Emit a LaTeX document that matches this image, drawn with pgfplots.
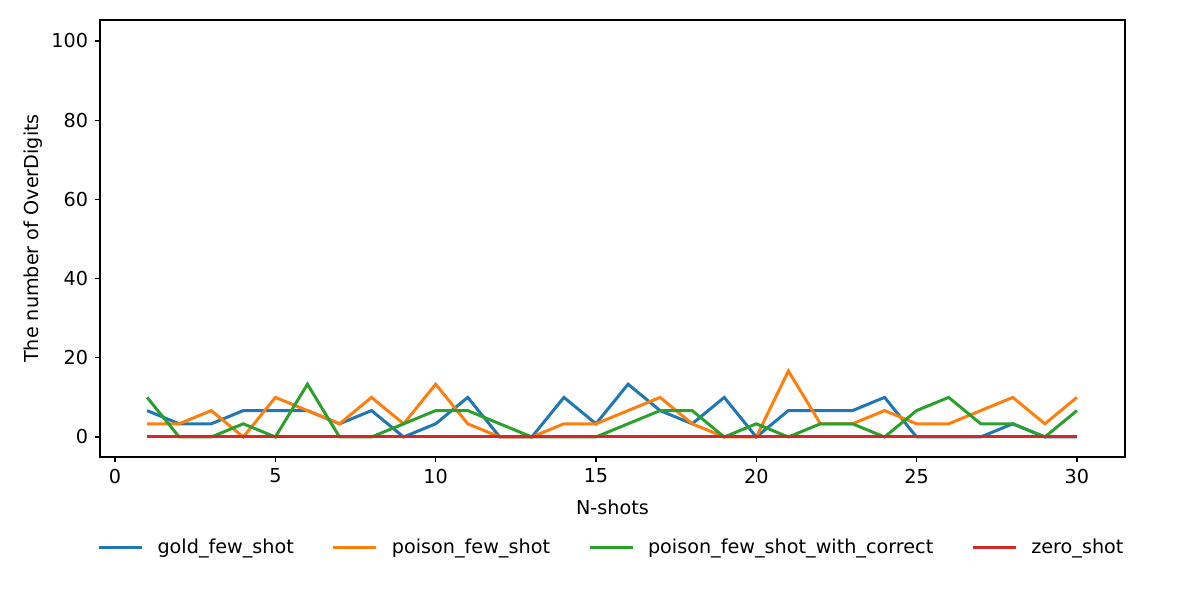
\documentclass[border=0pt]{standalone}
\usepackage{pgfplots}
\pgfplotsset{compat=1.18}
\usepackage{fontspec}
\setmainfont{DejaVu Sans}
\definecolor{c1}{HTML}{1F77B4}
\definecolor{c2}{HTML}{FF7F0E}
\definecolor{c3}{HTML}{2CA02C}
\definecolor{c4}{HTML}{D62728}
\begin{document}
\fontsize{9.6}{11.5}\selectfont
\begin{tikzpicture}
\path[use as bounding box] (0,0) rectangle (600pt,296.5pt);
\begin{axis}[
  at={(50pt,68pt)}, anchor=south west,
  scale only axis, width=512.5pt, height=218.5pt,
  xmin=-0.47, xmax=31.5, ymin=-5.05, ymax=105.3,
  xtick={0,5,10,15,20,25,30}, ytick={0,20,40,60,80,100},
  tick align=outside, tick pos=left,
  major tick length=2.6pt,
  axis line style={line width=0.6pt},
  every tick/.style={line width=0.6pt, black},
  /pgf/number format/assume math mode=true,
  ticklabel style={font=\fontsize{9.6}{11.5}\selectfont},
  label style={font=\fontsize{9.6}{11.5}\selectfont},
  xlabel={N-shots}, ylabel={The number of OverDigits},
  xlabel style={yshift=-1.5pt},
  ylabel style={yshift=-2pt},
  legend columns=4,
  legend style={at={(0.5,-0.208)}, anchor=center, draw=none, fill=none,
    font=\fontsize{9.6}{11.5}\selectfont,
    /tikz/every odd column/.append style={column sep=5pt},
    /tikz/every even column/.append style={column sep=17pt}},
  legend image code/.code={\draw[#1, line width=1.5pt] (0pt,0pt) -- (21.5pt,0pt);},
  every axis plot/.append style={line width=1.5pt},
]
\addplot[c1] coordinates {(1,6.667)(2,3.333)(3,3.333)(4,6.667)(5,6.667)(6,6.667)(7,3.333)(8,6.667)(9,0)(10,3.333)(11,10)(12,0)(13,0)(14,10)(15,3.333)(16,13.333)(17,6.667)(18,3.333)(19,10)(20,0)(21,6.667)(22,6.667)(23,6.667)(24,10)(25,0)(26,0)(27,0)(28,3.333)(29,0)(30,0)};
\addlegendentry{gold\_few\_shot}
\addplot[c2] coordinates {(1,3.333)(2,3.333)(3,6.667)(4,0)(5,10)(6,6.667)(7,3.333)(8,10)(9,3.333)(10,13.333)(11,3.333)(12,0)(13,0)(14,3.333)(15,3.333)(16,6.667)(17,10)(18,3.333)(19,0)(20,0)(21,16.667)(22,3.333)(23,3.333)(24,6.667)(25,3.333)(26,3.333)(27,6.667)(28,10)(29,3.333)(30,10)};
\addlegendentry{poison\_few\_shot}
\addplot[c3] coordinates {(1,10)(2,0)(3,0)(4,3.333)(5,0)(6,13.333)(7,0)(8,0)(9,3.333)(10,6.667)(11,6.667)(12,3.333)(13,0)(14,0)(15,0)(16,3.333)(17,6.667)(18,6.667)(19,0)(20,3.333)(21,0)(22,3.333)(23,3.333)(24,0)(25,6.667)(26,10)(27,3.333)(28,3.333)(29,0)(30,6.667)};
\addlegendentry{poison\_few\_shot\_with\_correct}
\addplot[c4] coordinates {(1,0)(2,0)(3,0)(4,0)(5,0)(6,0)(7,0)(8,0)(9,0)(10,0)(11,0)(12,0)(13,0)(14,0)(15,0)(16,0)(17,0)(18,0)(19,0)(20,0)(21,0)(22,0)(23,0)(24,0)(25,0)(26,0)(27,0)(28,0)(29,0)(30,0)};
\addlegendentry{zero\_shot}
\end{axis}
\end{tikzpicture}
\end{document}
